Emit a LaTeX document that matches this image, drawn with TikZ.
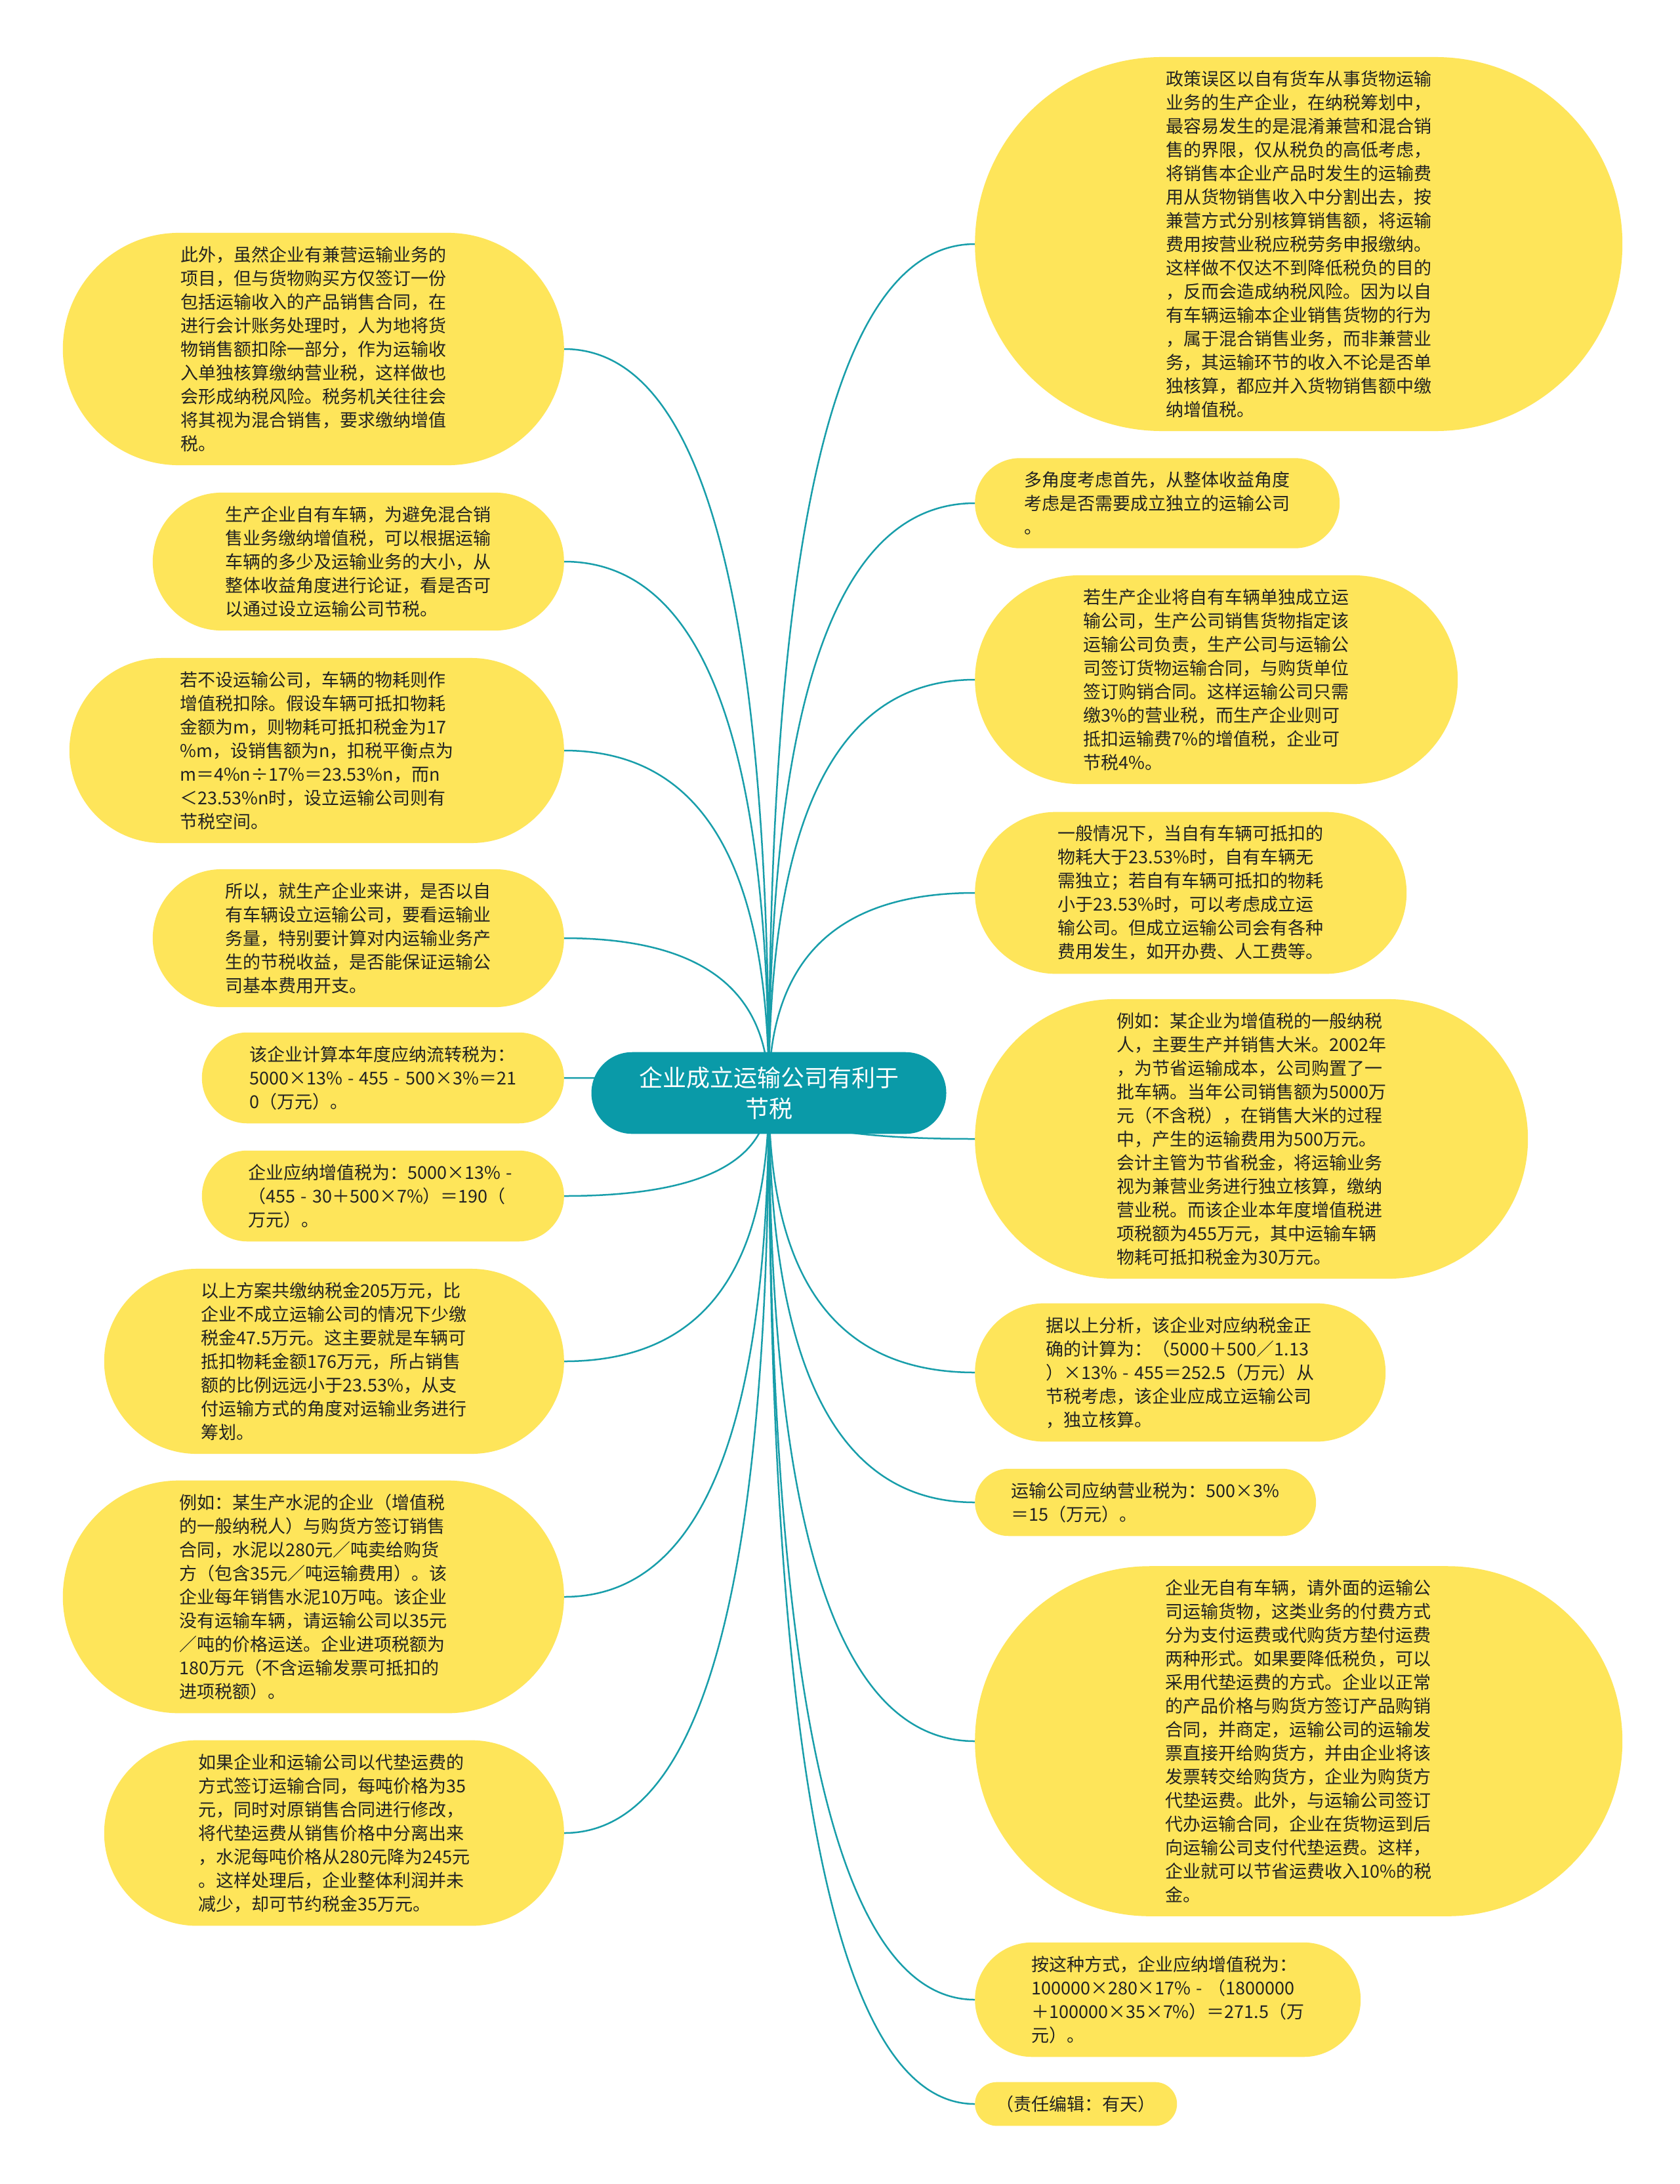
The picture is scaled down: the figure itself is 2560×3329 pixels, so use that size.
\documentclass[tikz,border=0pt]{standalone}
\usepackage{fontspec}
\setmainfont{Noto Sans CJK SC}
\usetikzlibrary{shapes.misc,calc,backgrounds}

\definecolor{leafyellow}{RGB}{254,229,90}
\definecolor{rootteal}{RGB}{10,154,168}
\definecolor{linkteal}{RGB}{24,158,170}
\definecolor{leaftext}{RGB}{34,34,34}
\newcommand{\dsh}{\kern.3em-\kern.3em}

\begin{document}
\begin{tikzpicture}[x=1pt,y=-1pt,
    leaf/.style={rounded rectangle,fill=leafyellow,text=leaftext,
      inner xsep=0pt,inner ysep=20.5pt,align=left,minimum width=#1,
      font=\fontsize{27}{36}\selectfont},
    root/.style={rounded rectangle,fill=rootteal,text=white,
      inner xsep=0pt,inner ysep=22pt,align=center,minimum width=541,
      font=\fontsize{36}{47}\selectfont},
    link/.style={draw=linkteal,line width=2.5pt}]
    \useasboundingbox (0,0) rectangle (2560,3329);

    \node[root] (ctr) at (1172,1666) {企业成立运输公司有利于\\节税};

    % left side
    \node[leaf=764,anchor=east] (l1) at (860,532) {此外，虽然企业有兼营运输业务的\\项目，但与货物购买方仅签订一份\\包括运输收入的产品销售合同，在\\进行会计账务处理时，人为地将货\\物销售额扣除一部分，作为运输收\\入单独核算缴纳营业税，这样做也\\会形成纳税风险。税务机关往往会\\将其视为混合销售，要求缴纳增值\\税。};
    \node[leaf=627,anchor=east] (l2) at (860,856) {生产企业自有车辆，为避免混合销\\售业务缴纳增值税，可以根据运输\\车辆的多少及运输业务的大小，从\\整体收益角度进行论证，看是否可\\以通过设立运输公司节税。};
    \node[leaf=754,anchor=east] (l3) at (860,1144) {若不设运输公司，车辆的物耗则作\\增值税扣除。假设车辆可抵扣物耗\\金额为m，则物耗可抵扣税金为17\\\%m，设销售额为n，扣税平衡点为\\m＝4\%n÷17\%＝23.53\%n，而n\\＜23.53\%n时，设立运输公司则有\\节税空间。};
    \node[leaf=627,anchor=east] (l4) at (860,1430) {所以，就生产企业来讲，是否以自\\有车辆设立运输公司，要看运输业\\务量，特别要计算对内运输业务产\\生的节税收益，是否能保证运输公\\司基本费用开支。};
    \node[leaf=552,anchor=east] (l5) at (860,1643) {该企业计算本年度应纳流转税为：\\5000×13\%\dsh 455\dsh 500×3\%＝21\\0（万元）。};
    \node[leaf=552,anchor=east] (l6) at (860,1823) {企业应纳增值税为：5000×13\%\dsh\\（455\dsh 30＋500×7\%）＝190（\\万元）。};
    \node[leaf=701,anchor=east] (l7) at (860,2075) {以上方案共缴纳税金205万元，比\\企业不成立运输公司的情况下少缴\\税金47.5万元。这主要就是车辆可\\抵扣物耗金额176万元，所占销售\\额的比例远远小于23.53\%，从支\\付运输方式的角度对运输业务进行\\筹划。};
    \node[leaf=764,anchor=east] (l8) at (860,2434) {例如：某生产水泥的企业（增值税\\的一般纳税人）与购货方签订销售\\合同，水泥以280元／吨卖给购货\\方（包含35元／吨运输费用）。该\\企业每年销售水泥10万吨。该企业\\没有运输车辆，请运输公司以35元\\／吨的价格运送。企业进项税额为\\180万元（不含运输发票可抵扣的\\进项税额）。};
    \node[leaf=701,anchor=east] (l9) at (860,2794) {如果企业和运输公司以代垫运费的\\方式签订运输合同，每吨价格为35\\元，同时对原销售合同进行修改，\\将代垫运费从销售价格中分离出来\\，水泥每吨价格从280元降为245元\\。这样处理后，企业整体利润并未\\减少，却可节约税金35万元。};

    % right side
    \node[leaf=987,anchor=west] (r1) at (1486,372) {政策误区以自有货车从事货物运输\\业务的生产企业，在纳税筹划中，\\最容易发生的是混淆兼营和混合销\\售的界限，仅从税负的高低考虑，\\将销售本企业产品时发生的运输费\\用从货物销售收入中分割出去，按\\兼营方式分别核算销售额，将运输\\费用按营业税应税劳务申报缴纳。\\这样做不仅达不到降低税负的目的\\，反而会造成纳税风险。因为以自\\有车辆运输本企业销售货物的行为\\，属于混合销售业务，而非兼营业\\务，其运输环节的收入不论是否单\\独核算，都应并入货物销售额中缴\\纳增值税。};
    \node[leaf=556,anchor=west] (r2) at (1486,767) {多角度考虑首先，从整体收益角度\\考虑是否需要成立独立的运输公司\\。};
    \node[leaf=736,anchor=west] (r3) at (1486,1036) {若生产企业将自有车辆单独成立运\\输公司，生产公司销售货物指定该\\运输公司负责，生产公司与运输公\\司签订货物运输合同，与购货单位\\签订购销合同。这样运输公司只需\\缴3\%的营业税，而生产企业则可\\抵扣运输费7\%的增值税，企业可\\节税4\%。};
    \node[leaf=658,anchor=west] (r4) at (1486,1361) {一般情况下，当自有车辆可抵扣的\\物耗大于23.53\%时，自有车辆无\\需独立；若自有车辆可抵扣的物耗\\小于23.53\%时，可以考虑成立运\\输公司。但成立运输公司会有各种\\费用发生，如开办费、人工费等。};
    \node[leaf=843,anchor=west] (r5) at (1486,1736) {例如：某企业为增值税的一般纳税\\人，主要生产并销售大米。2002年\\，为节省运输成本，公司购置了一\\批车辆。当年公司销售额为5000万\\元（不含税），在销售大米的过程\\中，产生的运输费用为500万元。\\会计主管为节省税金，将运输业务\\视为兼营业务进行独立核算，缴纳\\营业税。而该企业本年度增值税进\\项税额为455万元，其中运输车辆\\物耗可抵扣税金为30万元。};
    \node[leaf=626,anchor=west] (r6) at (1486,2092) {据以上分析，该企业对应纳税金正\\确的计算为：（5000＋500／1.13\\）×13\%\dsh 455＝252.5（万元）从\\节税考虑，该企业应成立运输公司\\，独立核算。};
    \node[leaf=520,anchor=west] (r7) at (1486,2290) {运输公司应纳营业税为：500×3\%\\＝15（万元）。};
    \node[leaf=987,anchor=west] (r8) at (1486,2654) {企业无自有车辆，请外面的运输公\\司运输货物，这类业务的付费方式\\分为支付运费或代购货方垫付运费\\两种形式。如果要降低税负，可以\\采用代垫运费的方式。企业以正常\\的产品价格与购货方签订产品购销\\合同，并商定，运输公司的运输发\\票直接开给购货方，并由企业将该\\发票转交给购货方，企业为购货方\\代垫运费。此外，与运输公司签订\\代办运输合同，企业在货物运到后\\向运输公司支付代垫运费。这样，\\企业就可以节省运费收入10\%的税\\金。};
    \node[leaf=588,anchor=west] (r9) at (1486,3048) {按这种方式，企业应纳增值税为：\\100000×280×17\%\dsh（1800000\\＋100000×35×7\%）＝271.5（万\\元）。};
    \node[leaf=308,anchor=west] (r10) at (1486,3207) {（责任编辑：有天）};

    % curved links from the root
    \begin{scope}[on background layer]
        \fill[white] (0,0) rectangle (2560,3329);
        \foreach \i in {1,...,9} {
            \coordinate (k) at (ctr.center |- l\i.east);
            \draw[link] (ctr.center) .. controls ($(ctr.center)!.67!(k)$) and ($(l\i.east)!.67!(k)$) .. (l\i.east);
        }
        \foreach \i in {1,...,10} {
            \coordinate (k) at (ctr.center |- r\i.west);
            \draw[link] (ctr.center) .. controls ($(ctr.center)!.67!(k)$) and ($(r\i.west)!.67!(k)$) .. (r\i.west);
        }
    \end{scope}
\end{tikzpicture}
\end{document}
